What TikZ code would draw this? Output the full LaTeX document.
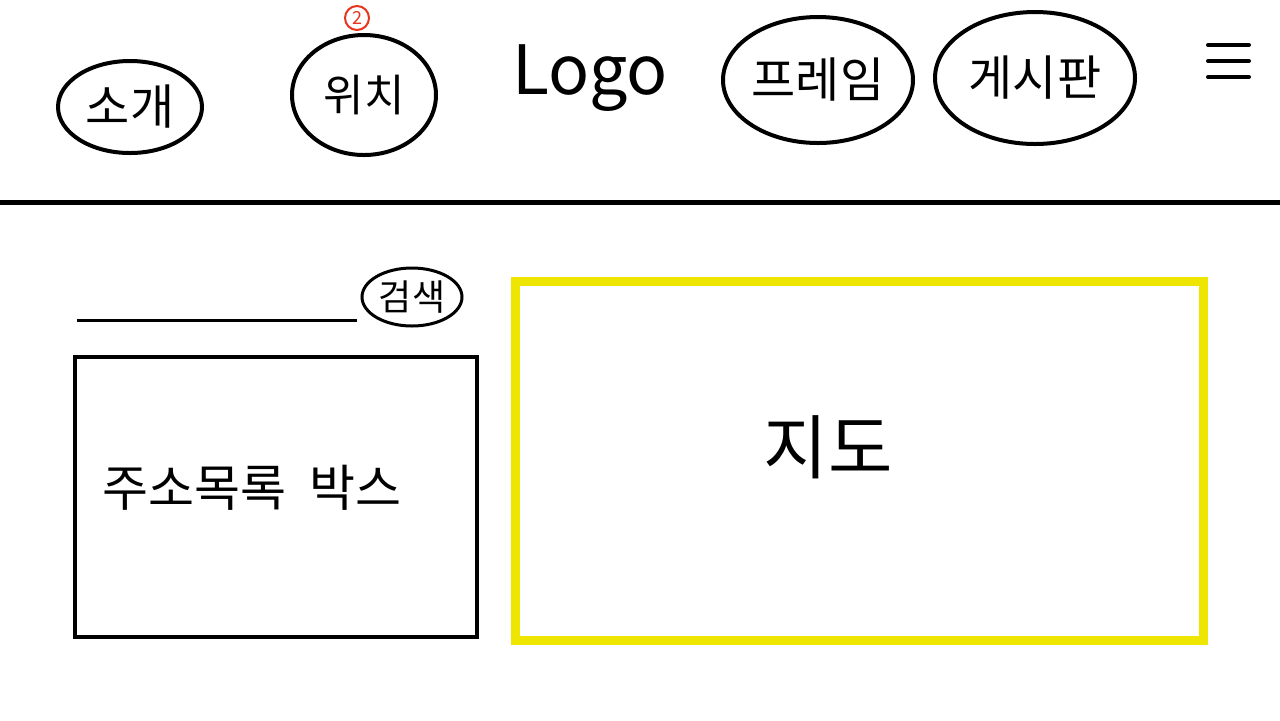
\documentclass[tikz,border=0pt]{standalone}
\usepackage{fontspec}
\setmainfont{Noto Sans CJK KR}
\usetikzlibrary{shapes.geometric}
\definecolor{mapyellow}{RGB}{238,230,0}
\definecolor{badgered}{RGB}{232,52,28}

\begin{document}
\begin{tikzpicture}[x=0.5pt,y=-0.5pt,
    menu/.style={draw,ellipse,line width=2pt,inner sep=0pt,font=\fontsize{24}{24}\selectfont},
    label/.style={inner sep=0pt}]
  \useasboundingbox (0,0) rectangle (1280,720);
  % top menu
  \node[menu,minimum width=72pt,minimum height=46pt] (about) at (130,107) {소개};
  \node[menu,minimum width=72pt,minimum height=60pt,font=\fontsize{22}{22}\selectfont] (place) at (364,95) {위치};
  \node[draw=badgered,text=badgered,circle,line width=1pt,minimum size=12pt,inner sep=0pt,
    font=\fontsize{9}{9}\selectfont] (badge) at (357,18) {2};
  \node[label,font=\fontsize{34}{34}\selectfont] (logo) at (590,78) {Logo};
  \node[menu,minimum width=95pt,minimum height=63pt] (frame) at (818,80) {프레임};
  \node[menu,minimum width=100pt,minimum height=66pt] (board) at (1035,78) {게시판};
  \foreach \y in {45,61,77}
    \draw[line width=2pt,line cap=round] (1208,\y) -- (1249,\y);
  \draw[line width=2.5pt] (0,202) -- (1280,202);

  % search
  \coordinate (qstart) at (77,320);
  \coordinate (qend) at (357,320);
  \draw[line width=1.5pt] (qstart) -- (qend);
  \node[draw,ellipse,line width=1.5pt,minimum width=50pt,minimum height=29pt,inner sep=0pt,
    font=\fontsize{18}{18}\selectfont] (search) at (412,297) {검색};

  % address list and map
  \node[draw,rectangle,line width=1.8pt,minimum width=201pt,minimum height=140pt] (list) at (276,497) {};
  \node[label,font=\fontsize{25}{25}\selectfont] (listname) at (252,488) {주소목록\ \ 박스};
  \node[draw=mapyellow,rectangle,line width=4.5pt,minimum width=344pt,minimum height=179.5pt] (map) at (859,460.5) {};
  \node[label,font=\fontsize{35}{35}\selectfont] (mapname) at (828,447) {지도};
\end{tikzpicture}
\end{document}
